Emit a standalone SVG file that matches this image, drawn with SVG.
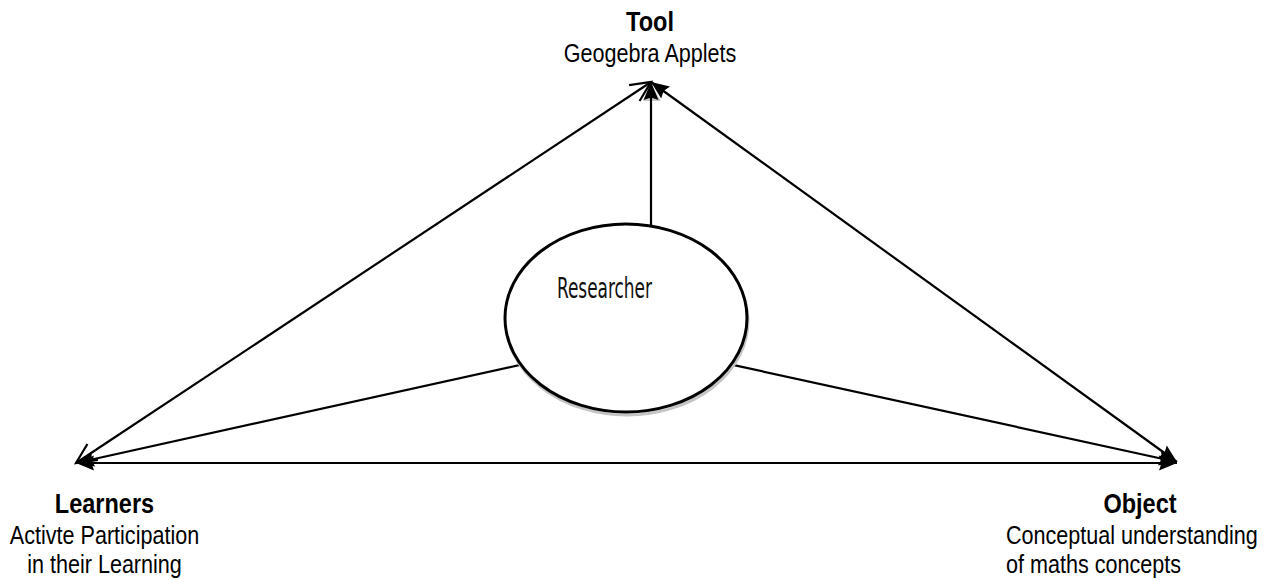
<svg xmlns="http://www.w3.org/2000/svg" width="1266" height="580" viewBox="0 0 1266 580">
  <style>
    .bg { fill: #ffffff; }
    .link { stroke: #000000; stroke-width: 2.2; fill: none; }
    .title { font-family: "Liberation Sans", Arial, sans-serif; font-weight: bold; font-size: 28px; fill: #000000; }
    .sub { font-family: "Liberation Sans", Arial, sans-serif; font-size: 26px; fill: #000000; }
    .center { font-family: "DejaVu Sans Condensed", "Liberation Sans", sans-serif; font-size: 28px; fill: #111111; }
    .ring { fill: #ffffff; stroke: #000000; stroke-width: 3; }
    .ring-shadow { fill: #ffffff; stroke: #c4c4c4; stroke-width: 3; }
  </style>
  <defs>
    <!-- solid arrowhead -->
    <marker id="solid" markerUnits="userSpaceOnUse" markerWidth="20" markerHeight="16" refX="18" refY="7.5" orient="auto-start-reverse" overflow="visible">
      <path d="M0,0 L18,7.5 L0,15 L2.5,7.5 z" fill="#000000"/>
    </marker>
    <!-- open line arrowhead -->
    <marker id="open" markerUnits="userSpaceOnUse" markerWidth="22" markerHeight="20" refX="20" refY="9.5" orient="auto-start-reverse" overflow="visible">
      <path d="M0,0 L20,9.5 L0,19" fill="none" stroke="#000000" stroke-width="2.2"/>
    </marker>
  </defs>

  <rect class="bg" x="0" y="0" width="1266" height="580"/>

  <g id="connectors">
    <!-- Tool <-> Learners -->
    <line class="link" x1="651" y1="82" x2="76" y2="463" marker-start="url(#open)" marker-end="url(#open)"/>
    <!-- Tool <-> Object -->
    <line class="link" x1="651" y1="82" x2="1177" y2="462" marker-start="url(#solid)" marker-end="url(#solid)"/>
    <!-- Learners <-> Object -->
    <line class="link" x1="76" y1="463" x2="1177" y2="463" marker-start="url(#solid)" marker-end="url(#solid)"/>
    <!-- Researcher -> Learners -->
    <line class="link" x1="530" y1="362.7" x2="76" y2="463" marker-end="url(#solid)"/>
    <!-- Researcher -> Object -->
    <line class="link" x1="720" y1="362.1" x2="1177" y2="462" marker-end="url(#solid)"/>
    <!-- Researcher -> Tool, with its soft shadow -->
    <path d="M643,101 L652,86 L661,101 z" fill="#c8c8c8"/>
    <line class="link" x1="651" y1="226" x2="651" y2="82" marker-end="url(#solid)"/>
  </g>

  <g id="researcher">
    <ellipse class="ring-shadow" cx="627" cy="321" rx="121" ry="94"/>
    <ellipse class="ring" cx="626" cy="318" rx="121" ry="94"/>
    <text class="center" x="557" y="298" textLength="95" lengthAdjust="spacingAndGlyphs">Researcher</text>
  </g>

  <g id="tool">
    <text class="title" text-anchor="middle" transform="translate(650,31) scale(0.84,1)">Tool</text>
    <text class="sub" text-anchor="middle" transform="translate(650,62) scale(0.83,1)">Geogebra Applets</text>
  </g>

  <g id="learners">
    <text class="title" text-anchor="middle" transform="translate(104.5,513) scale(0.84,1)">Learners</text>
    <text class="sub" text-anchor="middle" transform="translate(104.5,544) scale(0.83,1)">Activte Participation</text>
    <text class="sub" text-anchor="middle" transform="translate(104.5,573) scale(0.83,1)">in their Learning</text>
  </g>

  <g id="object">
    <text class="title" text-anchor="middle" transform="translate(1140,513) scale(0.84,1)">Object</text>
    <text class="sub" transform="translate(1006,544) scale(0.83,1)">Conceptual understanding</text>
    <text class="sub" transform="translate(1006,573) scale(0.83,1)">of maths concepts</text>
  </g>
</svg>
